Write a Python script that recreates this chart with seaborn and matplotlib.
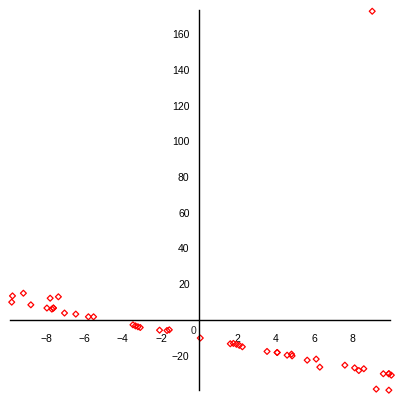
import matplotlib
matplotlib.use('Agg')
import matplotlib.pyplot as plt
import seaborn as sns
import pandas as pd
from matplotlib.ticker import MultipleLocator

# Values
x_vals = [-9.77, -9.81, -9.20, -8.81, -7.97, -7.80, -7.71, -7.63, -7.63, -7.37,
          -7.05, -6.46, -5.80, -5.53,
          -3.47, -3.34, -3.21, -3.09, -2.08, -1.69, -1.57,
          0.05,
          1.62, 1.78, 1.94, 2.09, 2.25,
          3.54, 4.07, 4.07, 4.59, 4.82, 4.85, 5.64, 6.11, 6.30,
          7.61, 8.12, 8.34, 8.60, 9.62, 9.91, 9.91, 10.04, 9.25, 9.91,
          9.04]
y_vals = [13.4, 9.9, 14.9, 8.4, 6.6, 12.1, 6.0, 6.6, 6.6, 12.9,
          3.8, 3.2, 1.7, 1.7,
          -2.8, -3.4, -3.9, -4.3, -5.8, -6.0, -5.6,
          -10.2,
          -13.4, -13.2, -13.7, -14.3, -15.1,
          -17.7, -18.3, -18.3, -19.8, -19.2, -20.2, -22.6, -22.0, -26.5,
          -25.4, -26.9, -28.4, -27.4, -30.2, -30.2, -30.2, -31.0, -38.8, -39.4,
          172.8]
x_ticks = [-8, -6, -4, -2, 2, 4, 6, 8]
y_ticks = [-20, 20, 40, 60, 80, 100, 120, 140, 160]

data = pd.DataFrame({'x': x_vals, 'y': y_vals})

sns.set_style('white')
plt.rcParams['font.family'] = ['Liberation Sans', 'DejaVu Sans']

fig = plt.figure(figsize=(4, 4), dpi=100)
ax = fig.add_axes([10 / 400, 10 / 400, 380 / 400, 380 / 400])

sns.scatterplot(data=data, x='x', y='y', ax=ax, marker='D', s=9,
                facecolor='none', edgecolor='red', linewidth=0.9,
                clip_on=False, legend=False)

ax.set_xlim(-9.9, 9.97)
ax.set_ylim(-39.3, 173.5)

# axes through the origin
for side in ['top', 'right']:
    ax.spines[side].set_visible(False)
ax.spines['left'].set_position(('data', 0))
ax.spines['bottom'].set_position(('data', 0))
for side in ['left', 'bottom']:
    ax.spines[side].set_color('black')
    ax.spines[side].set_linewidth(1.0)

ax.set_xticks(x_ticks)
ax.set_yticks(y_ticks)
ax.xaxis.set_minor_locator(MultipleLocator(1))
ax.yaxis.set_minor_locator(MultipleLocator(10))
ax.tick_params(axis='both', which='major', direction='out', length=4,
               width=1, color='black', labelsize=7.5, labelcolor='black')
ax.tick_params(axis='both', which='minor', direction='out', length=2,
               width=1, color='black')
ax.tick_params(axis='x', which='major', pad=6)
ax.tick_params(axis='y', which='major', pad=3)
ax.text(-0.3, -6.3, '0', fontsize=7.5, ha='center', va='center')

ax.set_xlabel('')
ax.set_ylabel('')
ax.grid(False)

fig.savefig('out.png', dpi=100)
